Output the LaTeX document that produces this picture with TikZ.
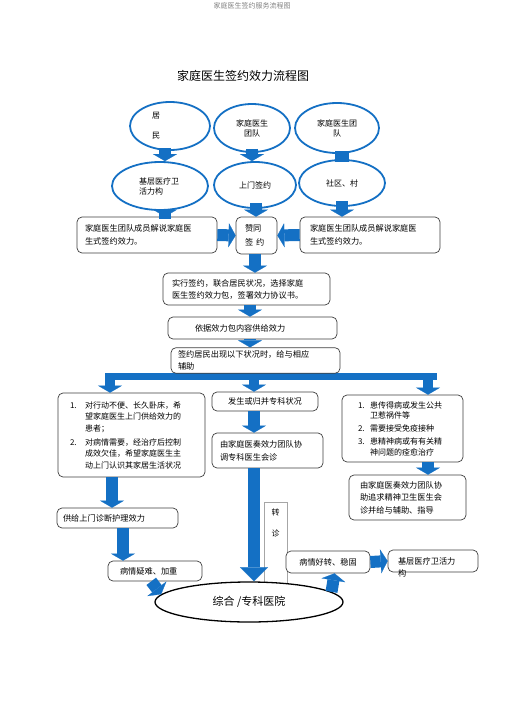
\documentclass[tikz,border=0pt]{standalone}
\usepackage{fontspec}
\setmainfont{Noto Sans CJK SC}
\usepackage{tikz}
\usetikzlibrary{calc,arrows.meta,shapes.geometric}
\definecolor{flowblue}{HTML}{1470C4}
\definecolor{boxline}{HTML}{3F3F3F}
\definecolor{faintgray}{HTML}{A6A6A6}
\newcommand{\numlab}[2]{\makebox[#1][l]{#2}}
\tikzset{
  oval/.style={ellipse, draw=flowblue, line width=1.8pt, fill=white, inner sep=0pt, align=center, font=\fontsize{8}{10}\selectfont},
  box/.style={draw=boxline, rounded corners=5pt, line width=0.7pt, fill=white, font=\fontsize{8.2}{12}\selectfont},
  blk/.style={draw=flowblue, line width=12pt, -{Triangle[length=7pt,width=24pt,line width=0.2pt]}},
  bus/.style={draw=flowblue, line width=7pt},
  lab/.style={font=\fontsize{12}{14}\selectfont},
}

\begin{document}
\begin{tikzpicture}[x=1pt,y=-1pt]
  \useasboundingbox (0,0) rectangle (505,714);
  \node[font=\fontsize{7}{8}\selectfont,text=gray] (head) at (252,6) {家庭医生签约服务流程图};
  \node[lab] (title) at (243,76) {家庭医生签约效力流程图};

  \coordinate (busL) at (110,376);
  \coordinate (busM) at (254,376);
  \coordinate (busR) at (428,376);
  \draw[bus] ($(busL)+(-5,0)$) -- ($(busR)+(9,0)$);

  \node[oval,minimum width=80pt,minimum height=48pt,text width=36pt,align=left] (res) at (170,126) {居\\[10pt]民};
  \node[oval,minimum width=76pt,minimum height=48pt] (team) at (252,128) {家庭医生\\团队};
  \node[oval,minimum width=84pt,minimum height=50pt] (teamR) at (337,128) {家庭医生团\\队};
  \node[oval,minimum width=96pt,minimum height=48pt,text width=42pt,align=left] (inst) at (160,186) {基层医疗卫\\活力构};
  \node[oval,minimum width=82pt,minimum height=46pt] (visitE) at (255,185) {上门签约};
  \node[oval,minimum width=86pt,minimum height=46pt] (vill) at (342,183) {社区、村};

  \node[box,minimum width=140pt,minimum height=36pt,text width=124pt,align=left,font=\fontsize{8.2}{13}\selectfont] (explL) at (147,235) {家庭医生团队成员解说家庭医\\生式签约效力。};
  \node[box,minimum width=41pt,minimum height=37pt,text width=23pt,align=left,font=\fontsize{8.2}{14}\selectfont] (agree) at (256.5,235.5) {赞同\\签\hspace{3pt}约};
  \node[box,minimum width=140pt,minimum height=36pt,text width=120pt,align=left,font=\fontsize{8.2}{13}\selectfont] (explR) at (370,235) {家庭医生团队成员解说家庭医\\生式签约效力。};

  \node[box,minimum width=167pt,minimum height=32pt,text width=149pt,align=left] (sign) at (246.5,289) {实行签约，联合居民状况，选择家庭\\医生签约效力包，签署效力协议书。};
  \node[box,minimum width=169pt,minimum height=22pt,text width=115pt,align=left] (supply) at (252.5,328) {依据效力包内容供给效力};
  \node[box,fill=none,minimum width=169pt,minimum height=25pt,text width=155pt,align=left,text depth=12pt] (cond) at (255.5,360.5) {签约居民出现以下状况时，给与相应\\辅助};

  \node[box,minimum width=147pt,minimum height=84pt,text width=123pt,align=left,font=\fontsize{8}{11.5}\selectfont] (care) at (131.5,435) {\numlab{15pt}{1.}对行动不便、长久卧床，希\\\hspace*{15pt}望家庭医生上门供给效力的\\\hspace*{15pt}患者；\\[2.5pt]\numlab{15pt}{2.}对病情需要，经治疗后控制\\\hspace*{15pt}成效欠佳，希望家庭医生主\\\hspace*{15pt}动上门认识其家居生活状况};
  \node[box,minimum width=106pt,minimum height=19pt] (special) at (265,401.5) {发生或归并专科状况};
  \node[box,minimum width=111pt,minimum height=35pt,text width=95pt,align=left,font=\fontsize{8.2}{13}\selectfont] (consult) at (267.5,450.5) {由家庭医奏效力团队协\\调专科医生会诊};
  \node[box,minimum width=121pt,minimum height=67pt,text width=89pt,align=left,font=\fontsize{8}{10.5}\selectfont] (infect) at (402.5,428.5) {\numlab{12pt}{1.}患传得病或发生公共\\\hspace*{12pt}卫惹祸件等\\[2.5pt]\numlab{12pt}{2.}需要接受免疫接种\\[2.5pt]\numlab{12pt}{3.}患精神病或有有关精\\\hspace*{12pt}神问题的痊愈治疗};
  \node[box,minimum width=117pt,minimum height=45pt,text width=95pt,align=left,font=\fontsize{8.2}{12.5}\selectfont] (helpR) at (407.5,497.5) {由家庭医奏效力团队协\\助追求精神卫生医生会\\诊并给与辅助、指导};

  \node[box,minimum width=121pt,minimum height=20pt,text width=109pt,align=left] (visit) at (117.5,518) {供给上门诊断护理效力};
  \node[box,minimum width=94pt,minimum height=20pt,text width=70pt,align=left] (worse) at (155,571) {病情疑难、加重};

  \node[draw=faintgray,line width=0.6pt,minimum width=23pt,anchor=north,align=center,text height=32pt,text depth=45pt,inner sep=2pt,font=\fontsize{8}{10}\selectfont] (zhuan) at (275.5,502) {转\\[11pt]诊};
  \node[box,minimum width=84pt,minimum height=22pt] (better) at (328,562) {病情好转、稳固};
  \node[box,minimum width=90pt,minimum height=22pt,text width=70pt,align=left,text depth=0pt] (prim) at (433,561) {基层医疗卫活力\\构};
  \node[ellipse,draw=black,line width=1.3pt,fill=white,minimum width=188pt,minimum height=40pt,font=\fontsize{11}{13}\selectfont] (hosp) at (249,602) {综合 /专科医院};

  \draw[blk,shorten <=-3pt] (165,0 |- res.south) -- (165,0 |- inst.north);
  \draw[blk,shorten <=-4pt] (252,0 |- team.south) -- (252,0 |- visitE.north);
  \draw[bus,line width=14pt,shorten <=-3pt,shorten >=-3pt] (342,0 |- teamR.south) -- (342,0 |- vill.north);
  \draw[blk,shorten <=-8pt] (165,0 |- inst.south) -- (165,0 |- explL.north);
  \draw[blk,shorten <=-6pt] (256,0 |- visitE.south) -- (256,0 |- agree.north);
  \draw[blk,shorten <=-6pt] (342,0 |- vill.south) -- (342,0 |- explR.north);
  \draw[blk] (explL.east) -- (agree.west);
  \draw[blk] (explR.west) -- (agree.east);
  \draw[blk] (255,0 |- agree.south) -- (255,0 |- sign.north);
  \draw[blk] (250,0 |- sign.south) -- (250,0 |- supply.north);
  \draw[blk] (250,0 |- supply.south) -- (250,0 |- cond.north);

  \draw[blk,line width=10pt] (busL) -- (busL |- care.north);
  \draw[blk,line width=10pt] (busM) -- (busM |- special.north);
  \draw[blk,line width=10pt] (busR) -- (busR |- infect.north);
  \draw[blk] (busM |- special.south) -- (busM |- consult.north);
  \draw[blk,-{Triangle[length=14pt,width=28pt,line width=0.2pt]}] (busM |- consult.south) -- (busM |- hosp.north);
  \draw[blk] (busR |- infect.south) -- (busR |- helpR.north);
  \draw[blk] (112,0 |- care.south) -- (112,0 |- visit.north);
  \draw[blk] (123,0 |- visit.south) -- (123,0 |- worse.north);
  \draw[blk] (worse.250) -- (hosp.175);
  \draw[blk] (hosp.7) -- (better.300);
  \draw[blk] (better.east) -- (prim.west);
\end{tikzpicture}
\end{document}
